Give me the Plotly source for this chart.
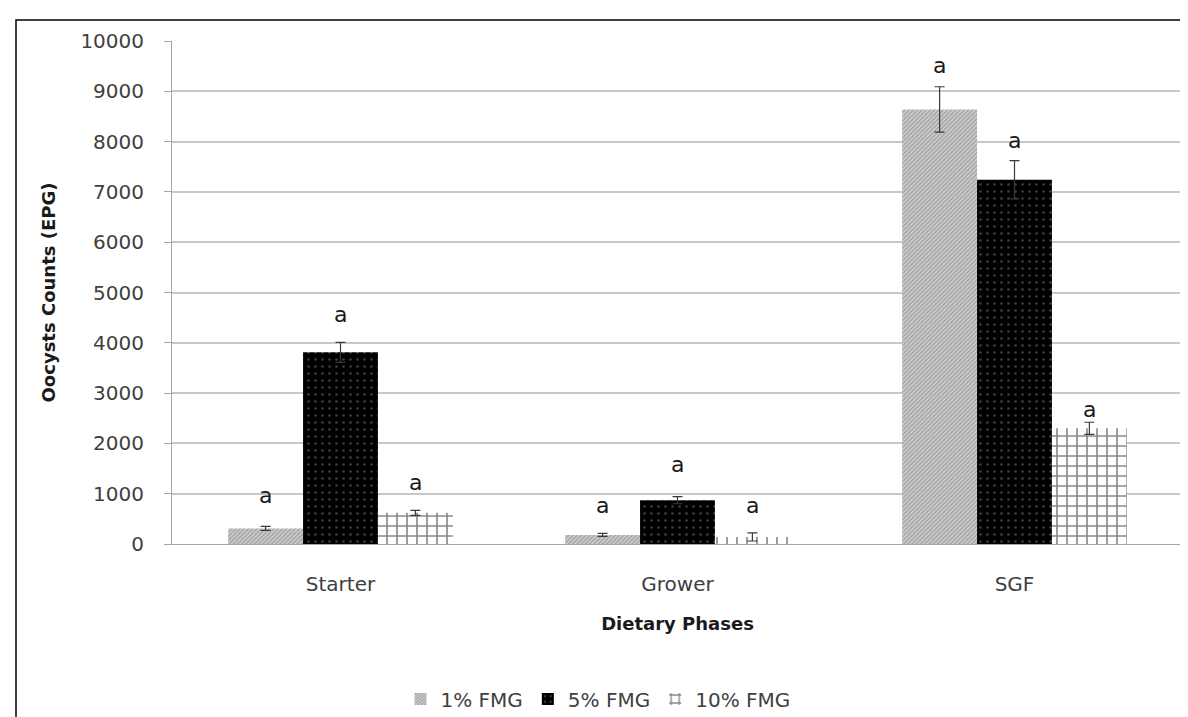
import plotly.graph_objects as go

categories = ["Starter", "Grower", "SGF"]
series_names = ["1% FMG", "5% FMG", "10% FMG"]
means = {
    "1% FMG": [310, 180, 8640],
    "5% FMG": [3810, 870, 7240],
    "10% FMG": [620, 140, 2300],
}
errors = {
    "1% FMG": [40, 30, 450],
    "5% FMG": [200, 70, 380],
    "10% FMG": [50, 80, 120],
}
letters = {
    "1% FMG": ["a", "a", "a"],
    "5% FMG": ["a", "a", "a"],
    "10% FMG": ["a", "a", "a"],
}
y_ticks = list(range(0, 10001, 1000))
y_ticktext = [str(v) for v in y_ticks]

patterns = {
    "1% FMG": dict(shape="/", fgcolor="#6e6e6e", bgcolor="#d0d0d0", size=3, solidity=0.45),
    "5% FMG": dict(shape=".", fgcolor="#7a7a7a", bgcolor="#000000", size=7, solidity=0.12),
    "10% FMG": dict(shape="+", fgcolor="#111111", bgcolor="#ffffff", size=10, solidity=0.3),
}
letter_shift = {
    "1% FMG": [31, 28, 21],
    "5% FMG": [28, 32, 20],
    "10% FMG": [28, 27, 13],
}

FONT = "DejaVu Sans"
fig = go.Figure()
for s in series_names:
    fig.add_trace(go.Bar(
        name=s, x=categories, y=means[s],
        marker=dict(pattern=patterns[s], line=dict(width=0)),
        error_y=dict(type="data", array=errors[s], color="#3a3a3a", thickness=1.2, width=5),
    ))

offsets = [-2/9, 0, 2/9]
for j, s in enumerate(series_names):
    for i in range(len(categories)):
        fig.add_annotation(
            x=i + offsets[j], y=means[s][i] + errors[s][i], xref="x", yref="y",
            text=letters[s][i], showarrow=False, yanchor="middle",
            yshift=letter_shift[s][i], font=dict(family=FONT, size=22, color="#1a1a1a"),
        )

# outer frame
L, R, T, B = 164, 13, 33, 181
W, H = 1188, 717
pw, ph = W - L - R, H - T - B
fig.add_shape(type="rect", xref="paper", yref="paper",
              x0=(8 - L) / pw, x1=(1195 - L) / pw,
              y0=(H - 725 - B) / ph, y1=(H - 12 - B) / ph,
              line=dict(color="black", width=1.5), fillcolor="rgba(0,0,0,0)", layer="below")

fig.update_layout(
    width=W, height=H,
    margin=dict(l=L, r=R, t=T, b=B, pad=0, autoexpand=False),
    plot_bgcolor="white", paper_bgcolor="white",
    barmode="group", bargap=1/3, bargroupgap=0,
    font=dict(family=FONT, color="#404040"),
    showlegend=True,
    legend=dict(orientation="h", xref="container", yref="container",
                x=590 / W, xanchor="center", y=1 - 691 / H, yanchor="middle",
                font=dict(family=FONT, size=20, color="#404040"), traceorder="normal",
                itemwidth=30, tracegroupgap=0),
    xaxis=dict(
        automargin=False,
        showgrid=False, showline=True, linecolor="#a6a6a6", linewidth=1,
        tickfont=dict(family=FONT, size=20, color="#404040"), ticks="", ticklabelstandoff=22,
        title=dict(text="<b>Dietary Phases</b>", font=dict(family=FONT, size=18, color="#1a1a1a"), standoff=22),
    ),
    yaxis=dict(
        automargin=False,
        range=[0, 10000], tickvals=y_ticks, ticktext=y_ticktext,
        showgrid=True, gridcolor="#c8c8c8", gridwidth=1.5,
        showline=True, linecolor="#a6a6a6", linewidth=1, ticks="outside", ticklen=7, tickcolor="#a6a6a6",
        ticklabelstandoff=16,
        tickfont=dict(family=FONT, size=20, color="#404040"), zeroline=False,
        title=dict(text="<b>Oocysts Counts (EPG)</b>", font=dict(family=FONT, size=18, color="#1a1a1a"), standoff=20),
    ),
)

fig.write_html("out.html")
